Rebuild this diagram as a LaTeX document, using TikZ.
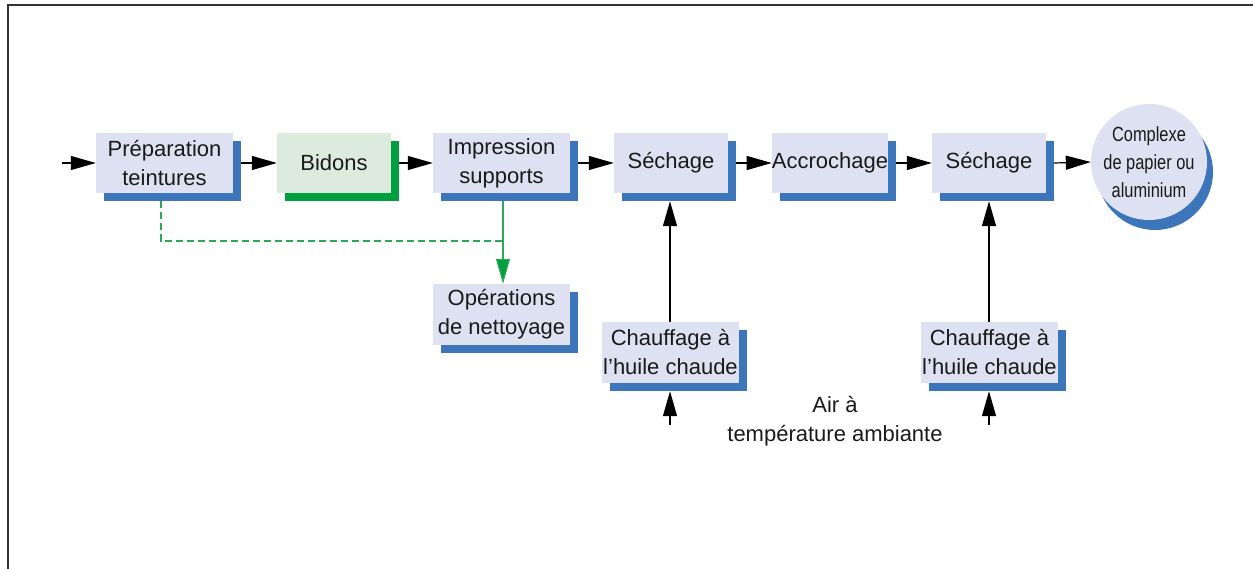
\documentclass[tikz,border=0pt]{standalone}
\usepackage{fontspec}
\setmainfont{Liberation Sans}
\newfontfamily\condfont[FakeStretch=0.8]{Liberation Sans}
\usetikzlibrary{arrows.meta,shadows}
\definecolor{lav}{HTML}{DEE1F1}
\definecolor{shblue}{HTML}{3C75BA}
\definecolor{lgreen}{HTML}{DDEBDF}
\definecolor{shgreen}{HTML}{00A040}
\definecolor{lgreenline}{HTML}{2EA858}
\definecolor{txt}{HTML}{1A1A1A}
\begin{document}
\begin{tikzpicture}[x=1pt,y=-1pt,
  boxbase/.style={fill=lav,inner sep=0pt,minimum height=60pt,align=center,text=txt,
    font=\fontsize{22}{29}\selectfont,
    drop shadow={shadow xshift=8pt,shadow yshift=-8pt,fill=shblue,opacity=1}},
  wbox/.style={boxbase,minimum width=137pt},
  nbox/.style={boxbase,minimum width=114pt},
  gbox/.style={nbox,fill=lgreen,drop shadow={shadow xshift=8pt,shadow yshift=-8pt,fill=shgreen,opacity=1}},
  endcirc/.style={circle,fill=lav,minimum size=116pt,inner sep=0pt,align=center,text=txt,
    font=\condfont\fontsize{20.5}{28}\selectfont,
    drop shadow={shadow xshift=6pt,shadow yshift=-10pt,fill=shblue,opacity=1}},
  arr/.style={line width=1.2pt,draw=black,-{Triangle[length=25pt,width=14pt]}},
  garr/.style={line width=1.2pt,draw=lgreenline,-{Triangle[length=25pt,width=14pt,fill=shgreen]}},
  gdash/.style={line width=1.2pt,draw=lgreenline,dash pattern=on 7pt off 4pt},
  plain/.style={inner sep=0pt,align=center,text=txt,font=\fontsize{22}{29}\selectfont}
]
\useasboundingbox (0,0) rectangle (1253,569);
\draw[line width=2pt,black!80] (8,569) -- (8,5) -- (1253,5);

\node[wbox] (prep) at (164.5,163) {Préparation\\teintures};
\node[gbox] (bid) at (334,163) {Bidons};
\node[wbox] (impr) at (501.5,163) {Impression\\supports};
\node[nbox] (sech1) at (671,163) {Séchage};
\node[nbox] (accro) at (830,163) {Accrochage};
\node[nbox] (sech2) at (989,163) {Séchage};
\node[endcirc] (comp) at (1149,162) {Complexe\\de papier ou\\aluminium};
\node[wbox,minimum height=61pt] (oper) at (501.5,314.5) {Opérations\\de nettoyage};
\node[wbox,minimum height=61pt] (ch1) at (670.5,352.5) {Chauffage à\\l’huile chaude};
\node[wbox,minimum height=61pt] (ch2) at (989.5,352.5) {Chauffage à\\l’huile chaude};
\node[plain] (air) at (835,421) {Air à\\température ambiante};

\coordinate (in) at (62,163);
\coordinate (a1) at (670,425);
\coordinate (a2) at (989,425);
\coordinate (gc) at (161,241);

\draw[arr] (in) -- (prep.west);
\draw[arr] ([xshift=8pt]prep.east) -- (bid.west);
\draw[arr] ([xshift=8pt]bid.east) -- (impr.west);
\draw[arr] ([xshift=8pt]impr.east) -- (sech1.west);
\draw[arr] ([xshift=8pt]sech1.east) -- (accro.west);
\draw[arr] ([xshift=8pt]accro.east) -- (sech2.west);
\draw[arr] ([xshift=8pt]sech2.east) -- (comp.west);

\draw[arr] (ch1.north -| a1) -- ([yshift=-8pt]sech1.south -| a1);
\draw[arr] (ch2.north -| a2) -- ([yshift=-8pt]sech2.south -| a2);
\draw[arr] (a1) -- ([yshift=-8pt]ch1.south -| a1);
\draw[arr] (a2) -- ([yshift=-8pt]ch2.south -| a2);

\draw[gdash] ([yshift=-8pt]prep.south -| gc) -- (gc) -- (gc -| 503,0);
\draw[garr] ([yshift=-8pt]impr.south -| 503,0) -- (oper.north -| 503,0);
\end{tikzpicture}
\end{document}
